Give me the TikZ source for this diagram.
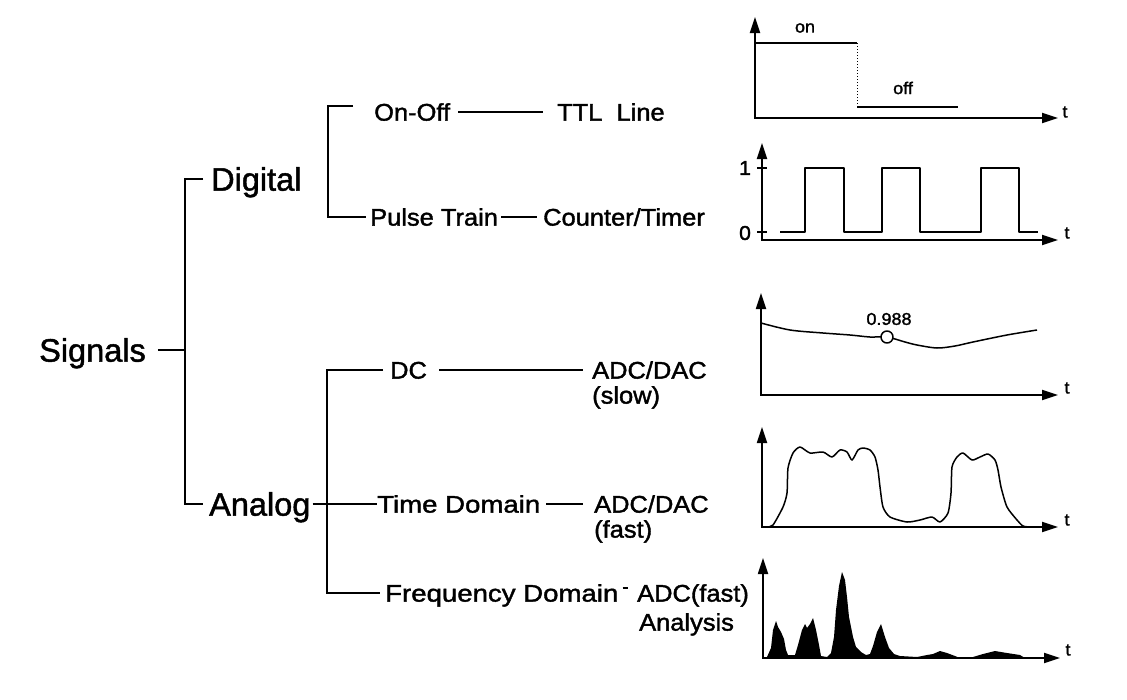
\documentclass[tikz,border=0pt]{standalone}
\usepackage{fontspec}
\setmainfont{Liberation Sans}[RawFeature={embolden=1.4}]
\newfontfamily\lblfont[FakeStretch=1.06, RawFeature={embolden=1.6}]{Liberation Sans}
\newfontfamily\widefont[FakeStretch=1.15, RawFeature={embolden=1.6}]{Liberation Sans}
\usetikzlibrary{arrows.meta, positioning}

\begin{document}
\begin{tikzpicture}[x=1pt, y=-1pt,
    big/.style={anchor=west, inner sep=0pt, text height=23.3pt, text depth=0pt, font=\fontsize{32.5}{36}\selectfont},
    lbl/.style={anchor=west, inner sep=0pt, text height=17.2pt, text depth=0pt, font=\lblfont\fontsize{24}{28}\selectfont},
    wide/.style={lbl, font=\widefont\fontsize{24}{28}\selectfont},
    tiny/.style={inner sep=0pt, font=\lblfont\fontsize{17}{20}\selectfont},
    tree/.style={line width=2.4pt},
    axis/.style={line width=1.8pt, {Triangle[length=16pt,width=10pt]}-{Triangle[length=16pt,width=10pt]}},
    sig/.style={line width=1.5pt, line join=round}
]
    \useasboundingbox (0,0) rectangle (1127,699);

    % Tree
    \node[big] (sig) at (39,350) {Signals};
    \coordinate (trunk) at (185,350);
    \node[big] (dig) at (211,179) {Digital};
    \node[big] (ana) at (209,504) {Analog};
    \draw[tree] ([xshift=12pt]sig.east) -- (trunk);
    \draw[tree] ([xshift=-8pt]dig.west) -| ([xshift=-24pt]ana.west) -- ([xshift=-6pt]ana.west);

    % Digital branch
    \node[lbl] (onoff) at (374,112) {On-Off};
    \node[lbl] (ttl) at (557,112) {TTL\ \ Line};
    \node[lbl] (pulse) at (370,217) {Pulse Train};
    \node[lbl] (cnt) at (543,217) {Counter/Timer};
    \draw[tree] ([xshift=-21pt,yshift=6pt]onoff.west) -| ([xshift=-42pt]pulse.west) -- ([xshift=-4pt]pulse.west);
    \draw[tree] ([xshift=8pt]onoff.east) -- ([xshift=-14pt]ttl.west);
    \draw[tree] ([xshift=3pt]pulse.east) -- ([xshift=-6pt]cnt.west);

    % Analog branch
    \node[lbl] (dc) at (390,370) {DC};
    \node[lbl] (adcs) at (592,370) {ADC/DAC};
    \node[lbl] (slow) at (592,395) {(slow)};
    \node[wide] (td) at (377,504) {Time Domain};
    \node[lbl] (adcf) at (594,504) {ADC/DAC};
    \node[lbl] (fast) at (594,529) {(fast)};
    \node[wide] (freq) at (385,593) {Frequency Domain};
    \node[lbl] (adcx) at (637,593) {ADC(fast)};
    \node[lbl] (anl) at (639,622) {Analysis};
    \draw[tree] ([xshift=-7pt]dc.west) -| ([xshift=-58pt]freq.west) -- ([xshift=-5pt]freq.west);
    \draw[tree] ([xshift=2pt]ana.east) -- (td.west);
    \draw[tree] ([xshift=12pt]dc.east) -- ([xshift=-9pt]adcs.west);
    \draw[tree] ([xshift=6pt]td.east) -- ([xshift=-11pt]adcf.west);
    \draw[line width=1.6pt] ([xshift=4pt,yshift=5pt]freq.east) -- ([xshift=-9pt,yshift=5pt]adcx.west);

    % On-Off plot
    \draw[axis] (755,17) -- (755,118) -- (1058,118);
    \draw[sig, line width=1.8pt] (755,43) -- (857,43);
    \draw[dotted, line width=1pt] (857,43) -- (857,106);
    \draw[sig, line width=1.8pt] (857,107) -- (958,107);
    \node[tiny] (on) at (805,28) {on};
    \node[tiny] (off) at (903,88) {off};
    \node[tiny] (t1) at (1065,112) {t};

    % Pulse train plot
    \draw[axis] (762,143) -- (762,240) -- (1058,240);
    \foreach \y in {168,232} \draw[sig] (757,\y) -- (767,\y);
    \node[tiny, font=\lblfont\fontsize{20}{24}\selectfont] (one) at (745,168) {1};
    \node[tiny, font=\lblfont\fontsize{20}{24}\selectfont] (zero) at (745,233) {0};
    \draw[sig] (780,232) -| (805,168) -| (844,232) -| (882,168) -| (920,232) -| (981,168) -| (1019,232) -- (1038,232);
    \node[tiny] (t2) at (1067,233) {t};

    % DC plot
    \draw[axis] (761,293) -- (761,395) -- (1058,395);
    \draw[sig] plot[smooth] coordinates {(761,323) (790,330) (823,333) (850,335) (870,337) (887,337) (905,342) (917,345) (937,348) (955,346) (973,342) (1007,335) (1037,330)};
    \draw[sig, fill=white] (887,337) circle[radius=6];
    \node[tiny] (val) at (889,319) {0.988};
    \node[tiny] (t3) at (1067,388) {t};

    % Time domain plot
    \draw[axis] (762,427) -- (762,527) -- (1058,527);
    \draw[sig] plot[smooth, tension=0.4] coordinates {(767,527) (773,525) (783,507) (787,493) (788,468) (793,453) (800,447) (810,453) (823,452) (832,457) (840,450) (847,452) (852,460) (858,450) (863,448) (870,450) (875,457) (878,470) (880,487) (883,507) (890,517) (907,522) (920,520) (932,517) (940,522) (948,513) (951,493) (952,467) (957,457) (963,453) (972,460) (980,457) (988,454) (995,460) (998,470) (1001,487) (1007,507) (1017,520) (1023,526) (1030,527)};
    \node[tiny] (t4) at (1067,520) {t};

    % Frequency domain plot
    \draw[axis] (763,558) -- (763,658) -- (1060,658);
    \fill plot coordinates {(763,658) (767,657) (771,648) (773,630) (776,621) (778,627) (781,632) (784,639) (786,650) (788,655) (795,655) (798,645) (802,630) (805,624) (807,628) (810,624) (813,618) (816,630) (819,645) (821,656) (827,657) (831,653) (834,637) (836,610) (839,586) (842,572) (845,580) (847,597) (849,617) (853,637) (856,647) (861,652) (866,655) (870,654) (873,646) (877,632) (881,624) (885,637) (889,648) (894,654) (900,656) (917,657) (927,655) (933,654) (940,651) (947,653) (955,656) (960,658) (973,657) (983,654) (995,651) (1007,653) (1020,655) (1025,658)} -- cycle;
    \node[tiny] (t5) at (1068,650) {t};
\end{tikzpicture}
\end{document}
